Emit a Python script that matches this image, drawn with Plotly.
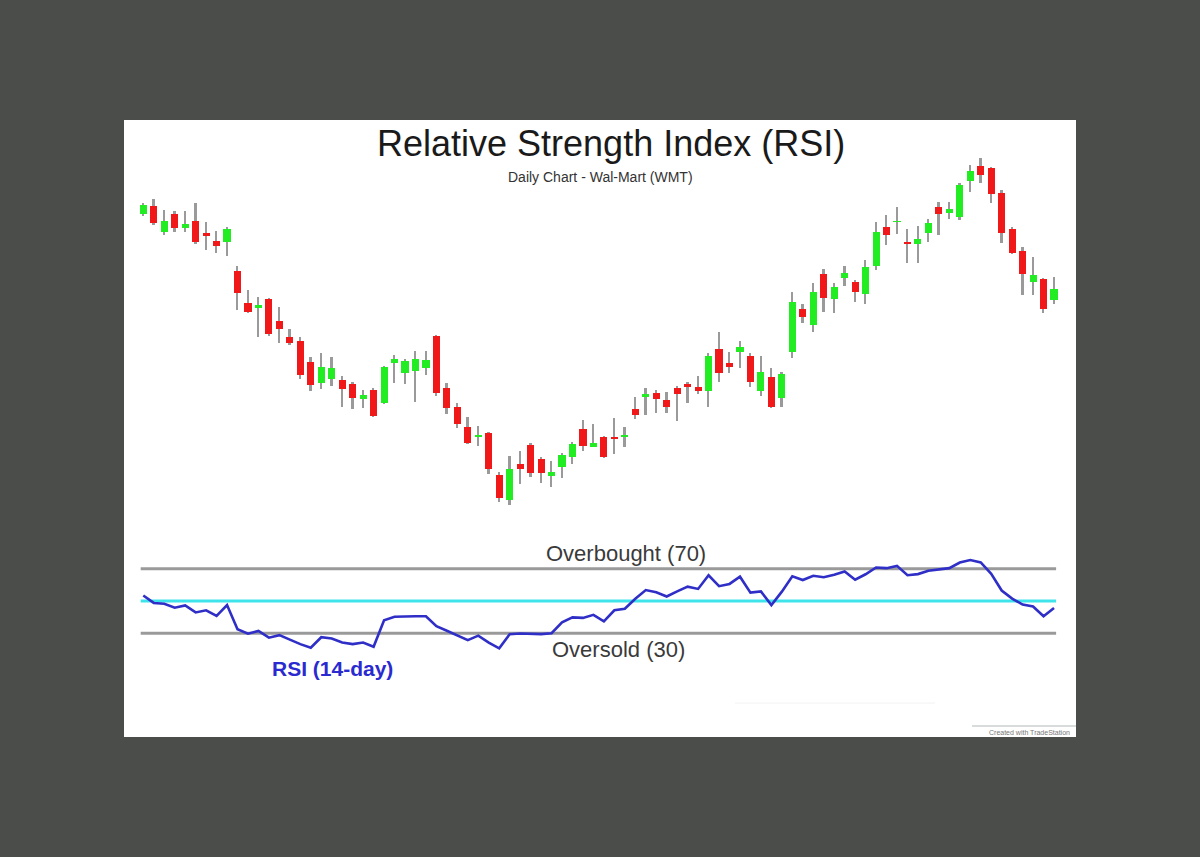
import plotly.graph_objects as go
import numpy as np

title_text = "Relative Strength Index (RSI)"
subtitle_text = "Daily Chart - Wal-Mart (WMT)"
rsi_label = "RSI (14-day)"
credit_text = "Created with TradeStation"

open_ = [48.6, 49.4, 46.8, 48.6, 47.2, 47.9, 46.7, 45.9, 45.8, 42.9,
         39.7, 39.2, 40.1, 37.9, 36.3, 35.9, 33.8, 31.7, 32.1, 32.0,
         31.6, 30.1, 31.0, 29.7, 33.7, 32.7, 32.9, 33.2, 36.4, 31.2,
         29.3, 27.3, 26.3, 26.7, 22.5, 20.0, 23.6, 25.5, 24.1, 22.4,
         23.3, 24.3, 27.1, 25.3, 26.3, 26.3, 26.3, 29.1, 30.3, 30.7,
         30.0, 31.2, 31.6, 31.3, 30.9, 35.1, 33.7, 34.8, 34.4, 30.9,
         32.3, 30.2, 34.8, 39.1, 37.5, 42.6, 40.1, 42.2, 41.8, 40.6,
         43.4, 47.3, 47.8, 45.8, 45.6, 46.7, 49.3, 48.7, 48.3, 51.9,
         53.4, 53.2, 50.7, 47.1, 44.9, 41.8, 42.1, 40.0]

high = [49.7, 50.1, 49.0, 48.9, 48.9, 49.7, 47.8, 46.9, 47.3, 43.4,
        41.0, 40.3, 40.2, 39.3, 37.1, 36.3, 34.3, 34.7, 34.3, 32.4,
        31.8, 31.0, 31.2, 33.4, 34.5, 34.1, 34.9, 34.9, 36.5, 31.7,
        29.7, 28.3, 27.4, 26.8, 22.8, 24.4, 24.9, 25.7, 24.3, 23.9,
        24.7, 25.8, 28.0, 27.6, 26.4, 28.2, 27.3, 30.3, 31.2, 31.0,
        30.8, 31.4, 31.8, 32.4, 34.7, 36.8, 34.8, 35.9, 34.7, 34.4,
        33.2, 32.8, 40.8, 39.6, 41.7, 43.1, 41.7, 43.4, 42.0, 44.0,
        47.8, 48.5, 49.3, 47.1, 47.4, 48.1, 49.8, 49.8, 51.7, 53.5,
        54.2, 53.3, 51.0, 47.3, 45.3, 44.3, 42.2, 42.3]

low = [48.4, 47.5, 46.5, 46.8, 46.8, 45.6, 45.0, 44.7, 44.4, 39.0,
       38.7, 36.3, 36.4, 35.7, 35.5, 32.1, 30.9, 31.1, 31.4, 29.3,
       29.1, 29.2, 28.3, 29.6, 31.7, 31.6, 29.8, 32.5, 30.4, 28.6,
       27.2, 25.6, 25.4, 22.6, 19.8, 19.5, 21.6, 22.3, 21.7, 21.3,
       22.2, 23.6, 24.9, 25.3, 24.2, 24.6, 25.3, 28.1, 28.5, 28.7,
       28.7, 27.9, 29.7, 30.6, 29.3, 31.8, 32.7, 33.2, 31.3, 30.4,
       29.2, 29.3, 34.2, 37.7, 36.8, 38.8, 38.7, 41.4, 39.8, 39.6,
       43.0, 45.5, 46.6, 43.7, 43.7, 45.8, 46.5, 48.1, 48.0, 50.8,
       51.7, 49.7, 45.7, 44.6, 40.5, 40.5, 38.7, 39.6]

close = [49.5, 47.7, 47.9, 47.2, 47.6, 45.8, 46.4, 45.4, 47.1, 40.7,
         38.8, 39.5, 36.6, 37.1, 35.7, 32.5, 31.5, 33.3, 33.2, 31.1,
         30.2, 30.5, 28.4, 33.3, 34.1, 33.9, 34.1, 34.0, 30.7, 29.2,
         27.6, 25.7, 26.5, 23.1, 20.2, 23.1, 23.1, 22.7, 22.7, 22.8,
         24.5, 25.6, 25.4, 25.7, 24.3, 26.1, 26.5, 28.5, 30.6, 30.1,
         29.3, 30.6, 31.3, 30.9, 34.4, 32.7, 33.3, 35.3, 31.8, 32.8,
         29.3, 32.6, 39.8, 38.3, 40.8, 40.2, 41.3, 42.7, 40.8, 43.3,
         46.8, 46.5, 47.9, 45.6, 46.1, 47.7, 48.6, 49.1, 51.5, 52.9,
         52.5, 50.6, 46.7, 44.7, 42.6, 42.5, 39.1, 41.1]

rsi = [53.4, 48.8, 48.3, 45.8, 47.2, 42.9, 44.2, 40.8, 47.5, 32.5,
       29.7, 31.4, 27.2, 28.8, 26.0, 23.2, 21.0, 27.5, 26.7, 24.2,
       23.2, 24.2, 21.6, 38.0, 40.2, 40.5, 40.5, 40.5, 34.3, 31.5,
       28.8, 25.7, 28.5, 24.2, 20.6, 29.4, 29.8, 29.8, 29.4, 30.0,
       36.8, 39.8, 39.5, 41.4, 37.4, 44.2, 45.2, 51.4, 56.8, 55.4,
       52.8, 56.0, 58.9, 57.5, 66.0, 59.2, 60.6, 65.1, 55.2, 56.0,
       47.5, 55.8, 65.4, 63.0, 65.7, 64.8, 66.3, 68.3, 63.2, 66.6,
       70.8, 70.4, 71.8, 66.0, 66.7, 68.8, 69.8, 70.4, 73.9, 75.4,
       74.0, 66.9, 56.5, 51.5, 47.8, 46.6, 40.5, 45.6]

overbought_level = 70
oversold_level = 30
mid_level = 50
overbought_label = "Overbought (70)"
oversold_label = "Oversold (30)"

# ---- styling ----
W, H = 1200, 857
BG = "#4b4d4a"
RED = "#f01818"
GREEN = "#22ec22"
WICK = "#9a9a9a"
FONT = "Liberation Sans, Arial, Helvetica, sans-serif"


def fx(px):
    return px / W


def fy(py):
    return 1 - py / H


o = np.array(open_)
h = np.array(high)
l = np.array(low)
c = np.array(close)
idx = np.arange(len(o))
body_base = np.minimum(o, c)
body_h = np.abs(c - o)
colors = [GREEN if cc >= oo else RED for oo, cc in zip(o, c)]

fig = go.Figure()

# wicks
fig.add_trace(go.Bar(x=idx, y=h - l, base=l, width=0.17,
                     marker=dict(color=WICK, line=dict(width=0)),
                     hoverinfo="skip", showlegend=False,
                     xaxis="x", yaxis="y"))
# bodies
fig.add_trace(go.Bar(x=idx, y=body_h, base=body_base, width=0.68,
                     marker=dict(color=colors, line=dict(width=0)),
                     hoverinfo="skip", showlegend=False,
                     xaxis="x", yaxis="y"))

# RSI line
fig.add_trace(go.Scatter(x=idx, y=rsi, mode="lines",
                         line=dict(color="#2f2fc8", width=2.6),
                         hoverinfo="skip", showlegend=False,
                         xaxis="x", yaxis="y2"))

shapes = [
    # white panel
    dict(type="rect", xref="paper", yref="paper", layer="below",
         x0=fx(124), x1=fx(1076), y0=fy(737), y1=fy(120),
         fillcolor="white", line=dict(width=0)),
    # level lines
    dict(type="line", xref="x", yref="y2", x0=-0.25, x1=87.2,
         y0=overbought_level, y1=overbought_level, layer="below",
         line=dict(color="#9a9a9a", width=3)),
    dict(type="line", xref="x", yref="y2", x0=-0.25, x1=87.2,
         y0=oversold_level, y1=oversold_level, layer="below",
         line=dict(color="#9a9a9a", width=3)),
    dict(type="line", xref="x", yref="y2", x0=-0.25, x1=87.2,
         y0=mid_level, y1=mid_level, layer="below",
         line=dict(color="#3fe3ea", width=3)),
    # credit box line
    dict(type="line", xref="paper", yref="paper",
         x0=fx(972), x1=fx(1076), y0=fy(726), y1=fy(726),
         line=dict(color="#b0b8b8", width=1)),
    # faint line
    dict(type="line", xref="paper", yref="paper",
         x0=fx(735), x1=fx(935), y0=fy(703), y1=fy(703),
         line=dict(color="#f2f2f2", width=1)),
]

annotations = [
    dict(text=title_text, x=fx(611), y=fy(143), xref="paper", yref="paper",
         showarrow=False, xanchor="center", yanchor="middle",
         font=dict(family=FONT, size=36, color="#1a1a1a")),
    dict(text=subtitle_text, x=fx(600), y=fy(177), xref="paper", yref="paper",
         showarrow=False, xanchor="center", yanchor="middle",
         font=dict(family=FONT, size=14, color="#333333")),
    dict(text=overbought_label, x=fx(626), y=fy(553), xref="paper", yref="paper",
         showarrow=False, xanchor="center", yanchor="middle",
         font=dict(family=FONT, size=22, color="#3a3a3a")),
    dict(text=oversold_label, x=fx(618), y=fy(649), xref="paper", yref="paper",
         showarrow=False, xanchor="center", yanchor="middle",
         font=dict(family=FONT, size=22, color="#3a3a3a")),
    dict(text="<b>" + rsi_label + "</b>", x=fx(332), y=fy(668), xref="paper", yref="paper",
         showarrow=False, xanchor="center", yanchor="middle",
         font=dict(family=FONT, size=21, color="#2a2ad0")),
    dict(text=credit_text, x=fx(1029), y=fy(732), xref="paper", yref="paper",
         showarrow=False, xanchor="center", yanchor="middle",
         font=dict(family=FONT, size=7, color="#777777")),
]

fig.update_layout(
    width=W, height=H,
    margin=dict(l=0, r=0, t=0, b=0),
    paper_bgcolor=BG,
    plot_bgcolor="rgba(0,0,0,0)",
    barmode="overlay",
    bargap=0,
    showlegend=False,
    shapes=shapes,
    annotations=annotations,
    xaxis=dict(domain=[fx(124), fx(1076)], range=[-1.844, 89.1],
               visible=False, fixedrange=True, anchor="y"),
    yaxis=dict(domain=[fy(520), fy(120)], range=[18, 58],
               visible=False, fixedrange=True, anchor="x"),
    yaxis2=dict(domain=[fy(700), fy(530)], range=[-11.5, 94.1],
                visible=False, fixedrange=True, anchor="x"),
)

fig.write_html("out.html")
